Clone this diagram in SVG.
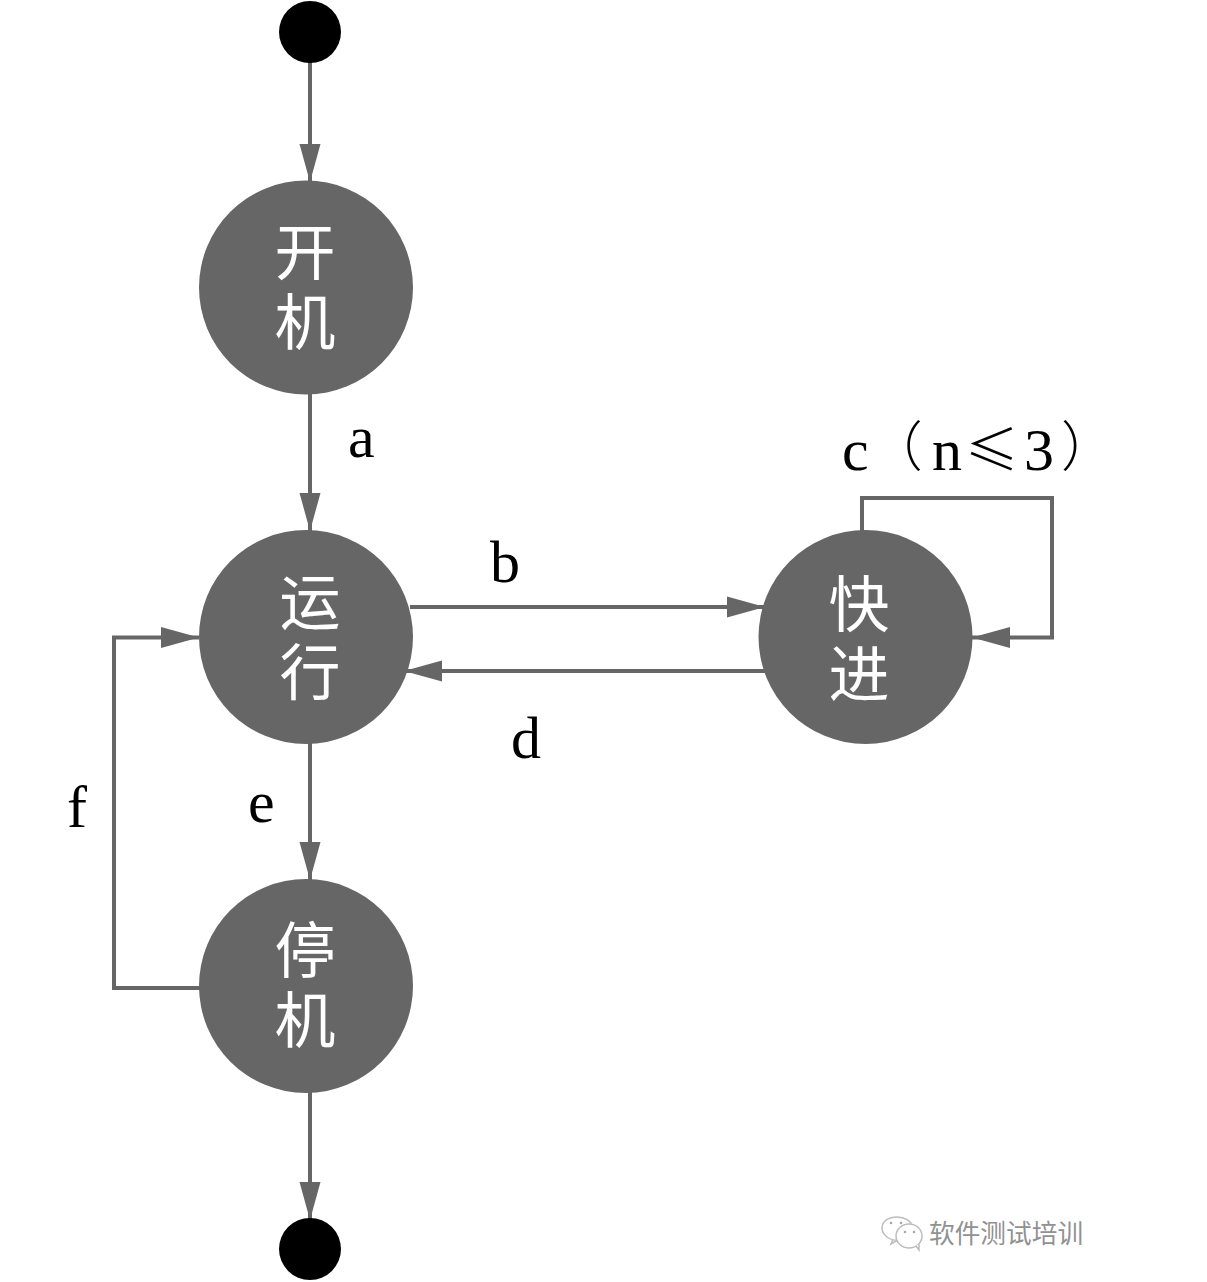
<svg xmlns="http://www.w3.org/2000/svg" width="1207" height="1282" viewBox="0 0 1207 1282">
<style>
.state{fill:#666666}
.term{fill:#000000}
.wire{fill:none;stroke:#666666;stroke-width:4}
.st{font-family:"Noto Sans CJK SC","Liberation Serif",serif;font-size:61px;fill:#ffffff;writing-mode:vertical-rl;letter-spacing:9px}
.lb{font-family:"Liberation Serif","Noto Sans CJK SC",serif;font-size:60px;fill:#000000}
.cj{font-family:"Noto Sans CJK SC","Liberation Serif",serif;font-weight:300;font-size:54px}
.wm{font-family:"Noto Sans CJK SC",sans-serif;font-size:25.7px;fill:#919191}
.ic{fill:#ffffff;stroke:#bdbdbd;stroke-width:1.5}
.eye{fill:#a8a8a8}
</style>
<defs>
<marker id="arr" markerUnits="userSpaceOnUse" markerWidth="40" markerHeight="24" refX="38" refY="12" orient="auto">
<path d="M0 1.500L38 12L0 22.500Z" fill="#666666"/>
</marker>
</defs>
<rect width="1207" height="1282" fill="#ffffff"/>
<g id="connectors">
<path class="wire" d="M310 62V182" marker-end="url(#arr)"/>
<path class="wire" d="M310 392V531" marker-end="url(#arr)"/>
<path class="wire" d="M410 607H765" marker-end="url(#arr)"/>
<path class="wire" d="M765 671H404" marker-end="url(#arr)"/>
<path class="wire" d="M862 532V498H1052V637.500H972" marker-end="url(#arr)"/>
<path class="wire" d="M310 742V880" marker-end="url(#arr)"/>
<path class="wire" d="M201 988H114V637.500H199" marker-end="url(#arr)"/>
<path class="wire" d="M310 1090V1220" marker-end="url(#arr)"/>
</g>
<g id="start"><circle class="term" cx="310" cy="32" r="31"/></g>
<g id="power-on"><circle class="state" cx="306" cy="287.500" r="107"/><text class="st" x="305" y="221">开机</text></g>
<g id="running"><circle class="state" cx="306" cy="637" r="107"/><text class="st" x="310" y="571">运行</text></g>
<g id="fast-forward"><circle class="state" cx="865.500" cy="637" r="107"/><text class="st" x="859" y="573">快进</text></g>
<g id="power-off"><circle class="state" cx="306" cy="986" r="107"/><text class="st" x="305" y="919">停机</text></g>
<g id="end"><circle class="term" cx="310" cy="1249" r="31"/></g>
<g id="labels">
<text class="lb" x="348" y="457">a</text>
<text class="lb" x="490" y="582">b</text>
<text class="lb"><tspan x="842" y="470">c</tspan><tspan class="cj" x="868.700" y="466">（</tspan><tspan x="932" y="470">n</tspan><tspan class="cj" x="965" y="470">≤</tspan><tspan x="1024" y="470">3</tspan><tspan class="cj" x="1061" y="466">）</tspan></text>
<text class="lb" x="511" y="758">d</text>
<text class="lb" x="248" y="822">e</text>
<text class="lb" x="67" y="827">f</text>
</g>
<g id="watermark">
<path class="ic" d="M893 1239L891 1244L898 1240L901 1240C889 1242 882 1234 882 1228C882 1221 889 1217 897 1217C905 1217 911 1221 912 1226"/>
<ellipse class="ic" cx="909" cy="1236" rx="13" ry="12"/>
<path class="ic" d="M916 1246L919 1250L919 1244"/>
<circle class="eye" cx="891" cy="1223" r="1.300"/><circle class="eye" cx="901" cy="1223" r="1.300"/>
<circle class="eye" cx="905" cy="1232" r="1.300"/><circle class="eye" cx="914" cy="1232" r="1.300"/>
<text class="wm" x="929" y="1243">软件测试培训</text>
</g>
</svg>
